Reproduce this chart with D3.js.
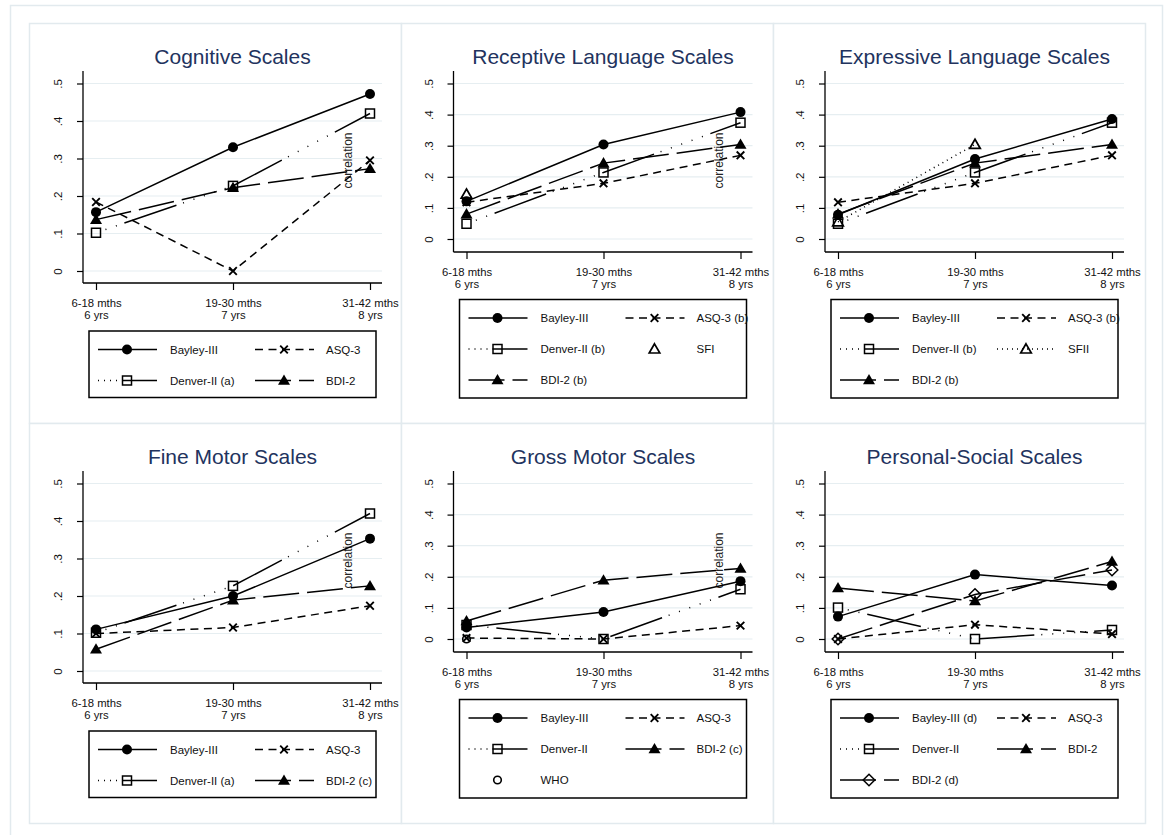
<!DOCTYPE html>
<html>
<head>
<meta charset="utf-8">
<script src="https://cdn.jsdelivr.net/npm/d3@7"></script>
<style>
  body { margin: 0; background: #fff; }
  svg { display: block; font-family: "Liberation Sans", Arial, Helvetica, sans-serif; }
</style>
</head>
<body>
<script>
// ---- data ----
const ageLabels = [["6-18 mths", "6 yrs"], ["19-30 mths", "7 yrs"], ["31-42 mths", "8 yrs"]];
const yTicks = [0, 0.1, 0.2, 0.3, 0.4, 0.5];
const yTickLabels = ["0", ".1", ".2", ".3", ".4", ".5"];
const panelTitles = ["Cognitive Scales", "Receptive Language Scales", "Expressive Language Scales",
                     "Fine Motor Scales", "Gross Motor Scales", "Personal-Social Scales"];

// Cognitive
const cogBayley = [0.157, 0.330, 0.472];
const cogASQ    = [0.184, 0.000, 0.295];
const cogDenver = [0.102, 0.227, 0.420];
const cogBDI    = [0.137, 0.222, 0.273];
// Receptive language
const recBayley = [0.121, 0.304, 0.408];
const recASQ    = [0.118, 0.179, 0.269];
const recDenver = [0.049, 0.214, 0.374];
const recSFI    = [0.144, null, null];
const recBDI    = [0.080, 0.244, 0.304];
// Expressive language
const expBayley = [0.078, 0.257, 0.386];
const expASQ    = [0.118, 0.179, 0.269];
const expDenver = [0.049, 0.214, 0.374];
const expSFII   = [0.055, 0.304, null];
const expBDI    = [0.080, 0.244, 0.304];
// Fine motor
const fineBayley = [0.111, 0.200, 0.353];
const fineASQ    = [0.100, 0.116, 0.174];
const fineDenver = [0.102, 0.227, 0.420];
const fineBDI    = [0.058, 0.189, 0.227];
// Gross motor
const grossBayley = [0.037, 0.087, 0.186];
const grossASQ    = [0.003, 0.000, 0.043];
const grossDenver = [0.045, 0.000, 0.160];
const grossBDI    = [0.058, 0.189, 0.227];
const grossWHO    = [0.000, null, null];
// Personal-social
const psBayley = [0.072, 0.207, 0.172];
const psASQ    = [0.000, 0.046, 0.016];
const psDenver = [0.101, 0.000, 0.029];
const psBDI    = [0.164, 0.122, 0.249];
const psBDId   = [0.000, 0.143, 0.222];

// line / marker look for each instrument
// (Denver's long dash + dots pattern is shorter in the legend key, as in the original)
const kinds = {
  Bayley: { dash: null, marker: "circle", line: true },
  ASQ:    { dash: "8 5.5", marker: "x", line: true },
  Denver: { dash: "55 7 1 10 1 10 1 10 1 10 1 8", offset: 85,
            keyDash: "1 5 1 5 1 5 1 5 40 5", marker: "square", line: true },
  BDI:    { dash: "36 8", marker: "triangle", line: true },
  SFI:    { dash: null, marker: "triangleOpen", line: false },
  SFII:   { dash: "1 4", marker: "triangleOpen", line: true },
  WHO:    { dash: null, marker: "circleOpen", line: false },
  BDId:   { dash: "36 8", marker: "diamond", line: true }
};

// series listed in legend order (row by row, two columns)
const panels = [
  { title: panelTitles[0], corr: true, series: [
    { label: "Bayley-III", kind: "Bayley", values: cogBayley },
    { label: "ASQ-3", kind: "ASQ", values: cogASQ },
    { label: "Denver-II (a)", kind: "Denver", values: cogDenver },
    { label: "BDI-2", kind: "BDI", values: cogBDI }] },
  { title: panelTitles[1], corr: true, series: [
    { label: "Bayley-III", kind: "Bayley", values: recBayley },
    { label: "ASQ-3 (b)", kind: "ASQ", values: recASQ },
    { label: "Denver-II (b)", kind: "Denver", values: recDenver },
    { label: "SFI", kind: "SFI", values: recSFI },
    { label: "BDI-2 (b)", kind: "BDI", values: recBDI }] },
  { title: panelTitles[2], corr: false, series: [
    { label: "Bayley-III", kind: "Bayley", values: expBayley },
    { label: "ASQ-3 (b)", kind: "ASQ", values: expASQ },
    { label: "Denver-II (b)", kind: "Denver", values: expDenver },
    { label: "SFII", kind: "SFII", values: expSFII },
    { label: "BDI-2 (b)", kind: "BDI", values: expBDI }] },
  { title: panelTitles[3], corr: true, series: [
    { label: "Bayley-III", kind: "Bayley", values: fineBayley },
    { label: "ASQ-3", kind: "ASQ", values: fineASQ },
    { label: "Denver-II (a)", kind: "Denver", values: fineDenver },
    { label: "BDI-2 (c)", kind: "BDI", values: fineBDI }] },
  { title: panelTitles[4], corr: true, series: [
    { label: "Bayley-III", kind: "Bayley", values: grossBayley },
    { label: "ASQ-3", kind: "ASQ", values: grossASQ },
    { label: "Denver-II", kind: "Denver", values: grossDenver },
    { label: "BDI-2 (c)", kind: "BDI", values: grossBDI },
    { label: "WHO", kind: "WHO", values: grossWHO }] },
  { title: panelTitles[5], corr: false, series: [
    { label: "Bayley-III (d)", kind: "Bayley", values: psBayley },
    { label: "ASQ-3", kind: "ASQ", values: psASQ },
    { label: "Denver-II", kind: "Denver", values: psDenver },
    { label: "BDI-2", kind: "BDI", values: psBDI },
    { label: "BDI-2 (d)", kind: "BDId", values: psBDId }] }
];

// ---- drawing ----
const frameColor = "#e2eaee";
const gridColor = "#e6eef1";
const titleColor = "#22335e";
const lw = 1.5;

const svg = d3.select("body").append("svg")
  .attr("width", 1165)
  .attr("height", 835);

svg.append("rect")
  .attr("x", 10.5).attr("y", 5.5)
  .attr("width", 1152).attr("height", 840)
  .attr("fill", "#fff")
  .attr("stroke", frameColor).attr("stroke-width", 1.5);

const colX = [29, 401, 773];
const plotLeft = [83, 453.5, 825];

function drawMarker(g, type, x, y) {
  const m = g.append("g").attr("transform", `translate(${x},${y})`);
  if (type === "circle") {
    m.append("circle").attr("r", 5).attr("fill", "#000");
  } else if (type === "circleOpen") {
    m.append("circle").attr("r", 3.8).attr("fill", "none").attr("stroke", "#000").attr("stroke-width", 1.6);
  } else if (type === "square") {
    m.append("rect").attr("x", -4.5).attr("y", -4.5).attr("width", 9).attr("height", 9)
      .attr("fill", "none").attr("stroke", "#000").attr("stroke-width", 1.5);
  } else if (type === "x") {
    m.append("path").attr("d", "M-3.8,-3.8L3.8,3.8M-3.8,3.8L3.8,-3.8")
      .attr("stroke", "#000").attr("stroke-width", 1.9).attr("fill", "none");
  } else if (type === "triangle") {
    m.append("path").attr("d", "M0,-6L6,4.3L-6,4.3Z").attr("fill", "#000");
  } else if (type === "triangleOpen") {
    m.append("path").attr("d", "M0,-5.2L5.3,4L-5.3,4Z").attr("fill", "none")
      .attr("stroke", "#000").attr("stroke-width", 1.7);
  } else if (type === "diamond") {
    m.append("path").attr("d", "M0,-5.8L5.8,0L0,5.8L-5.8,0Z").attr("fill", "none")
      .attr("stroke", "#000").attr("stroke-width", 1.5);
  }
}

panels.forEach((p, i) => {
  const r = Math.floor(i / 3), c = i % 3;
  const x0 = colX[c], y0 = 23 + 400 * r;
  const rows = Math.ceil(p.series.length / 2);
  const g = svg.append("g");

  // panel frame
  g.append("rect")
    .attr("x", x0 + 0.5).attr("y", y0 + 0.5)
    .attr("width", 372).attr("height", 400)
    .attr("fill", "#fff")
    .attr("stroke", frameColor).attr("stroke-width", 1.5);

  const left = plotLeft[c], right = left + 299;
  const top = y0 + 48;
  const axisY = rows === 2 ? y0 + 260 : y0 + 229;
  const zeroY = rows === 2 ? y0 + 248 : y0 + 216;

  const x = d3.scalePoint().domain([0, 1, 2]).range([left + 13, left + 287]);
  const y = d3.scaleLinear().domain([0, 0.5]).range([zeroY, y0 + 60.5]);

  // gridlines
  g.append("g").selectAll("line").data(yTicks).join("line")
    .attr("x1", left).attr("x2", right)
    .attr("y1", d => y(d)).attr("y2", d => y(d))
    .attr("stroke", gridColor).attr("stroke-width", 1.2);

  // title
  g.append("text")
    .attr("x", (left + right) / 2).attr("y", y0 + 40.5)
    .attr("text-anchor", "middle")
    .attr("font-size", 21).attr("fill", titleColor)
    .text(p.title);

  // y axis
  const yAxis = d3.axisLeft(y).tickValues(yTicks).tickSize(6)
    .tickFormat((d, k) => yTickLabels[k]);
  const ya = g.append("g").attr("transform", `translate(${left},0)`).call(yAxis);
  ya.select(".domain").remove();
  ya.selectAll(".tick line").attr("stroke", "#000").attr("stroke-width", 1.2);
  ya.selectAll(".tick text")
    .attr("x", null).attr("dy", null)
    .attr("transform", "translate(-21,0) rotate(-90)")
    .attr("text-anchor", "middle")
    .attr("font-size", 11.5).attr("font-family", null).attr("fill", "#111");
  g.append("line")
    .attr("x1", left).attr("x2", left).attr("y1", top).attr("y2", axisY)
    .attr("stroke", "#000").attr("stroke-width", 1.3);

  // x axis
  const xAxis = d3.axisBottom(x).tickSize(7).tickFormat("");
  const xa = g.append("g").attr("transform", `translate(0,${axisY})`).call(xAxis);
  xa.select(".domain").remove();
  xa.selectAll(".tick text").remove();
  xa.selectAll(".tick line").attr("stroke", "#000").attr("stroke-width", 1.2);
  xa.selectAll(".tick").each(function (d) {
    const t = d3.select(this);
    t.append("text").attr("text-anchor", "middle").attr("font-size", 11.3).attr("fill", "#111")
      .attr("y", 23.5).text(ageLabels[d][0]);
    t.append("text").attr("text-anchor", "middle").attr("font-size", 11.3).attr("fill", "#111")
      .attr("y", 36.2).text(ageLabels[d][1]);
  });
  g.append("line")
    .attr("x1", left).attr("x2", right).attr("y1", axisY).attr("y2", axisY)
    .attr("stroke", "#000").attr("stroke-width", 1.3);

  // "correlation" label
  if (p.corr) {
    g.append("text")
      .attr("transform", `translate(${left + 269},${y0 + 137.5}) rotate(-90)`)
      .attr("text-anchor", "middle").attr("font-size", 12).attr("fill", "#222")
      .text("correlation");
  }

  // series lines
  const line = d3.line()
    .defined(d => d != null)
    .x((d, k) => x(k))
    .y(d => y(d));
  p.series.forEach(s => {
    const k = kinds[s.kind];
    if (!k.line) return;
    g.append("path")
      .attr("d", line(s.values))
      .attr("fill", "none").attr("stroke", "#000").attr("stroke-width", lw)
      .attr("stroke-dasharray", k.dash)
      .attr("stroke-dashoffset", k.offset || 0);
  });
  // markers
  p.series.forEach(s => {
    s.values.forEach((v, k) => {
      if (v == null) return;
      drawMarker(g, kinds[s.kind].marker, x(k), y(v));
    });
  });

  // legend
  const bx = left + 6, by = rows === 2 ? y0 + 308 : y0 + 276.5;
  const bh = rows === 2 ? 66.5 : 98.5;
  g.append("rect")
    .attr("x", bx).attr("y", by).attr("width", 287).attr("height", bh)
    .attr("fill", "#fff").attr("stroke", "#000").attr("stroke-width", 1.5);
  const keyX = [9, 166], labX = [81, 237];
  p.series.forEach((s, n) => {
    const row = Math.floor(n / 2), col = n % 2;
    const cy = by + 18.5 + 31 * row;
    const kx = bx + keyX[col];
    const k = kinds[s.kind];
    if (k.line) {
      g.append("line")
        .attr("x1", kx).attr("x2", kx + 59).attr("y1", cy).attr("y2", cy)
        .attr("stroke", "#000").attr("stroke-width", lw)
        .attr("stroke-dasharray", k.keyDash || k.dash);
    }
    drawMarker(g, k.marker, kx + 29, cy);
    g.append("text")
      .attr("x", bx + labX[col]).attr("y", cy + 4.2)
      .attr("font-size", 11.5).attr("fill", "#111")
      .text(s.label);
  });
});
</script>
</body>
</html>
